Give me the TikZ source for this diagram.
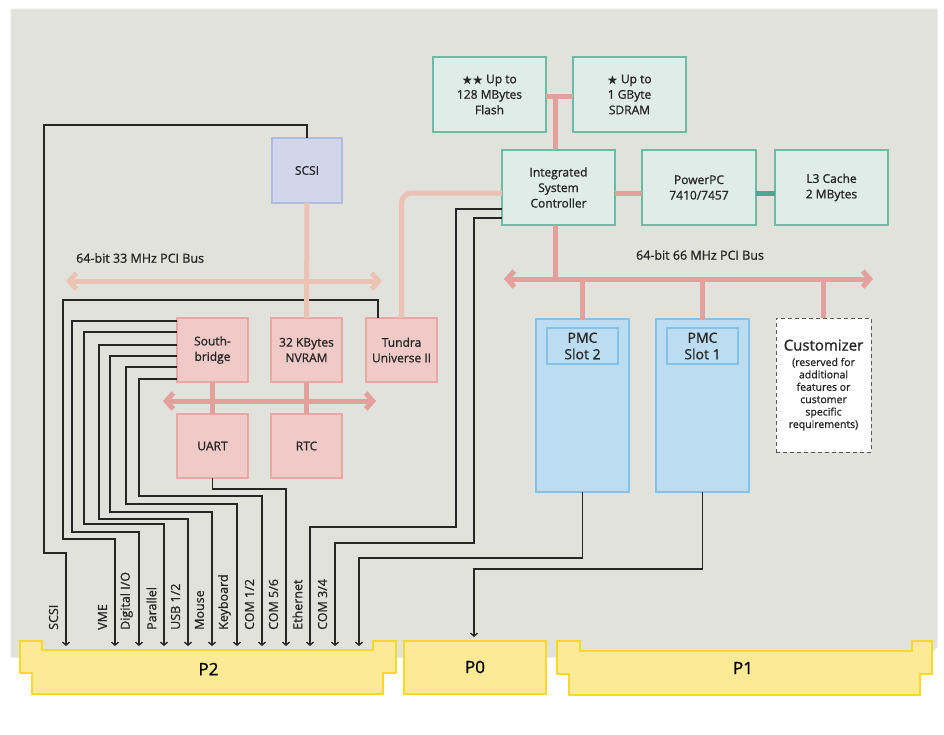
\documentclass[tikz,border=0pt]{standalone}
\usepackage{amssymb}
\usepackage{fontspec}
\setmainfont{Open Sans}[FakeBold=1.1]
\usepackage{tikz}
\usetikzlibrary{arrows.meta,positioning}
\definecolor{boardgray}{RGB}{226,226,220}
\definecolor{tealfill}{RGB}{224,236,231}
\definecolor{tealline}{RGB}{109,187,165}
\definecolor{tealbus}{RGB}{75,167,146}
\definecolor{pinkfill}{RGB}{240,202,198}
\definecolor{pinkline}{RGB}{232,168,166}
\definecolor{pinkbus}{RGB}{228,160,157}
\definecolor{salmonbus}{RGB}{235,194,179}
\definecolor{scsifill}{RGB}{209,214,235}
\definecolor{scsiline}{RGB}{174,188,224}
\definecolor{pmcfill}{RGB}{187,220,241}
\definecolor{pmcline}{RGB}{134,193,234}
\definecolor{connfill}{RGB}{253,234,151}
\definecolor{connline}{RGB}{248,217,43}
\definecolor{wirecol}{RGB}{38,38,38}
\newcommand{\memstar}{{\fontsize{11}{11}\selectfont$\bigstar$}}

\begin{document}
\begin{tikzpicture}[x=1pt, y=-1pt, node distance=27pt, font=\fontsize{12}{15.5}\selectfont,
  box/.style={align=center, inner sep=1pt, outer sep=0pt, line width=1.1pt, text=black!85},
  tealbox/.style={box, draw=tealline, fill=tealfill, minimum width=113pt, minimum height=75pt},
  pinkbox/.style={box, draw=pinkline, fill=pinkfill, minimum width=71pt, minimum height=64pt},
  scsibox/.style={box, draw=scsiline, fill=scsifill, minimum width=70pt, minimum height=65pt},
  pmcbox/.style={box, draw=pmcline, fill=pmcfill, minimum width=93pt, minimum height=173pt},
  pmclabel/.style={box, draw=pmcline, fill=pmcfill, minimum width=71pt, minimum height=36pt, font=\fontsize{14}{16.5}\selectfont},
  custbox/.style={box, draw=black!65, fill=white, dash pattern=on 4pt off 3pt, line width=1pt, minimum width=95pt, minimum height=134pt, font=\fontsize{10.5}{12.4}\selectfont},
  wire/.style={draw=wirecol, line width=1.3pt, -{Straight Barb[length=3pt,width=7pt]}},
  buslite/.style={draw=salmonbus, line width=5pt, >={Straight Barb[length=7pt,width=16pt]}},
  busdark/.style={draw=pinkbus, line width=5pt, >={Straight Barb[length=7pt,width=16pt]}},
  cachebus/.style={draw=tealbus, line width=5pt},
  conn/.style={draw=connline, fill=connfill, line width=1.2pt},
  connlabel/.style={font=\fontsize{17}{20}\selectfont},
  pinlabel/.style={rotate=90, anchor=west, inner sep=0pt, text=black!85, font=\fontsize{12.5}{15}\selectfont},
  buslabel/.style={inner sep=0pt, text=black!85, font=\fontsize{12.5}{15}\selectfont}
]
  \useasboundingbox (0,0) rectangle (944,734);
  \fill[boardgray, draw=black!10, line width=1pt] (11,9) -- (937,9) -- (937,647) -- (927,657) -- (11,657) -- cycle;

  \draw[conn] (20,641) -- (42,641) -- (42,650) -- (373,650) -- (373,641) -- (396,641) -- (396,673) -- (383,673) -- (383,694) -- (32,694) -- (32,673) -- (20,673) -- cycle;
  \draw[conn] (404,641) rectangle (546,694);
  \draw[conn] (557,641) -- (580,641) -- (580,651) -- (912,651) -- (912,641) -- (932,641) -- (932,674) -- (920,674) -- (920,695) -- (569,695) -- (569,674) -- (557,674) -- cycle;
  \node[connlabel] (p2) at (208.5,669) {P2};
  \node[connlabel] (p0) at (475,667) {P0};
  \node[connlabel] (p1) at (743,668) {P1};

  \node[tealbox] (flash) at (489.5,94.5) {\memstar\memstar\ Up to\\128 MBytes\\Flash};
  \node[tealbox, right=of flash] (sdram) {\memstar\ Up to\\1 GByte\\SDRAM};
  \node[tealbox] (isc) at (558.5,187.5) {Integrated\\System\\Controller};
  \node[tealbox, right=of isc, minimum width=114pt] (ppc) {PowerPC\\7410/7457};
  \node[tealbox, right=19pt of ppc] (l3) {L3 Cache\\2 MBytes};

  \node[scsibox] (scsi) at (307,170.5) {SCSI};
  \node[pinkbox] (sb) at (212.5,350) {South-\\bridge};
  \node[pinkbox, right=23pt of sb] (nvram) {32 KBytes\\NVRAM};
  \node[pinkbox, right=24pt of nvram] (tundra) {Tundra\\Universe II};
  \node[pinkbox, below=32pt of sb] (uart) {UART};
  \node[pinkbox, below=32pt of nvram] (rtc) {RTC};

  \node[pmcbox] (pmc2) at (582.5,405.5) {};
  \node[pmclabel, below=9pt of pmc2.north] (pmc2lbl) {PMC\\Slot 2};
  \node[pmcbox, right=of pmc2] (pmc1) {};
  \node[pmclabel, below=9pt of pmc1.north] (pmc1lbl) {PMC\\Slot 1};
  \node[custbox, anchor=north west] (cust) at (776,318) {{\fontsize{15}{18}\selectfont Customizer}\\[3pt](reserved for\\additional\\features or\\customer\\specific\\requirements)};

  \node[buslabel, anchor=west] (lbl33) at (76,258) {64-bit 33 MHz PCI Bus};
  \node[buslabel] (lbl66) at (700,255) {64-bit 66 MHz PCI Bus};

  \coordinate (b33l) at (66,281);
  \coordinate (b33r) at (382,281);
  \coordinate (locl) at (163,401);
  \coordinate (locr) at (376,401);
  \coordinate (b66l) at (504,279);
  \coordinate (b66r) at (873,279);
  \coordinate (memtap) at (555,96);

  \coordinate (pscsi) at (66,646);
  \coordinate (pvme) at (115,646);
  \coordinate (pdio) at (139,646);
  \coordinate (ppar) at (164,646);
  \coordinate (pusb) at (188,646);
  \coordinate (pmouse) at (212,646);
  \coordinate (pkbd) at (237,646);
  \coordinate (pcom12) at (262,646);
  \coordinate (pcom56) at (286,646);
  \coordinate (peth) at (310,646);
  \coordinate (pcom34) at (335,646);
  \coordinate (ppmc) at (359,646);
  \coordinate (pzero) at (474,637);

  \node[pinlabel] (lscsi) at (53.5,630) {SCSI};
  \node[pinlabel] (lvme) at (102.5,630) {VME};
  \node[pinlabel] (ldio) at (126.5,630) {Digital I/O};
  \node[pinlabel] (lpar) at (151.5,630) {Parallel};
  \node[pinlabel] (lusb) at (175.5,630) {USB 1/2};
  \node[pinlabel] (lmouse) at (199.5,630) {Mouse};
  \node[pinlabel] (lkbd) at (224.5,630) {Keyboard};
  \node[pinlabel] (lcom12) at (249.5,630) {COM 1/2};
  \node[pinlabel] (lcom56) at (273.5,630) {COM 5/6};
  \node[pinlabel] (leth) at (297.5,630) {Ethernet};
  \node[pinlabel] (lcom34) at (322.5,630) {COM 3/4};

  \draw[wire] (scsi.north) |- (44,125) |- (66,553) -- (pscsi);
  \draw[wire] ([xshift=12pt]tundra.north west) |- (63,300) |- (115,539) -- (pvme);
  \draw[wire] (sb.west |- 0,321) -| (72,532) -| (pdio);
  \draw[wire] (sb.west |- 0,332) -| (84,524) -| (ppar);
  \draw[wire] (sb.west |- 0,345) -| (99,519) -| (pusb);
  \draw[wire] (sb.west |- 0,356) -| (110,512) -| (pmouse);
  \draw[wire] (sb.west |- 0,367) -| (126,504) -| (pkbd);
  \draw[wire] (sb.west |- 0,379) -| (139,496) -| (pcom12);
  \draw[wire] (uart.south) |- (286,489) -- (pcom56);
  \draw[wire] (isc.west |- 0,209) -| (456,527) -| (peth);
  \draw[wire] (isc.west |- 0,218) -| (474,543) -| (pcom34);
  \draw[wire] (pmc2.south) |- (359,558) -- (ppmc);
  \draw[wire] (pmc1.south) |- (474,569) -- (pzero);

  \draw[buslite, <->] (b33l) -- (b33r);
  \draw[buslite] (scsi.south) -- (nvram.north);
  \draw[buslite, rounded corners=10pt] (tundra.north) |- (isc.west |- 0,193);
  \draw[busdark, <->] (locl) -- (locr);
  \draw[busdark] (sb.south) -- (uart.north);
  \draw[busdark] (nvram.south) -- (rtc.north);
  \draw[busdark] (flash.east |- memtap) -- (sdram.west |- memtap);
  \draw[busdark] (memtap) -- (isc.north -| memtap);
  \draw[busdark] (isc.east |- 0,193) -- (ppc.west |- 0,193);
  \draw[cachebus] (ppc.east |- 0,193) -- (l3.west |- 0,193);
  \draw[busdark, <->] (b66l) -- (b66r);
  \draw[busdark] (isc.south -| memtap) -- (memtap |- b66l);
  \draw[busdark] (pmc2.north) -- (pmc2.north |- b66l);
  \draw[busdark] (pmc1.north) -- (pmc1.north |- b66l);
  \draw[busdark] (cust.north) -- (cust.north |- b66l);
\end{tikzpicture}
\end{document}
